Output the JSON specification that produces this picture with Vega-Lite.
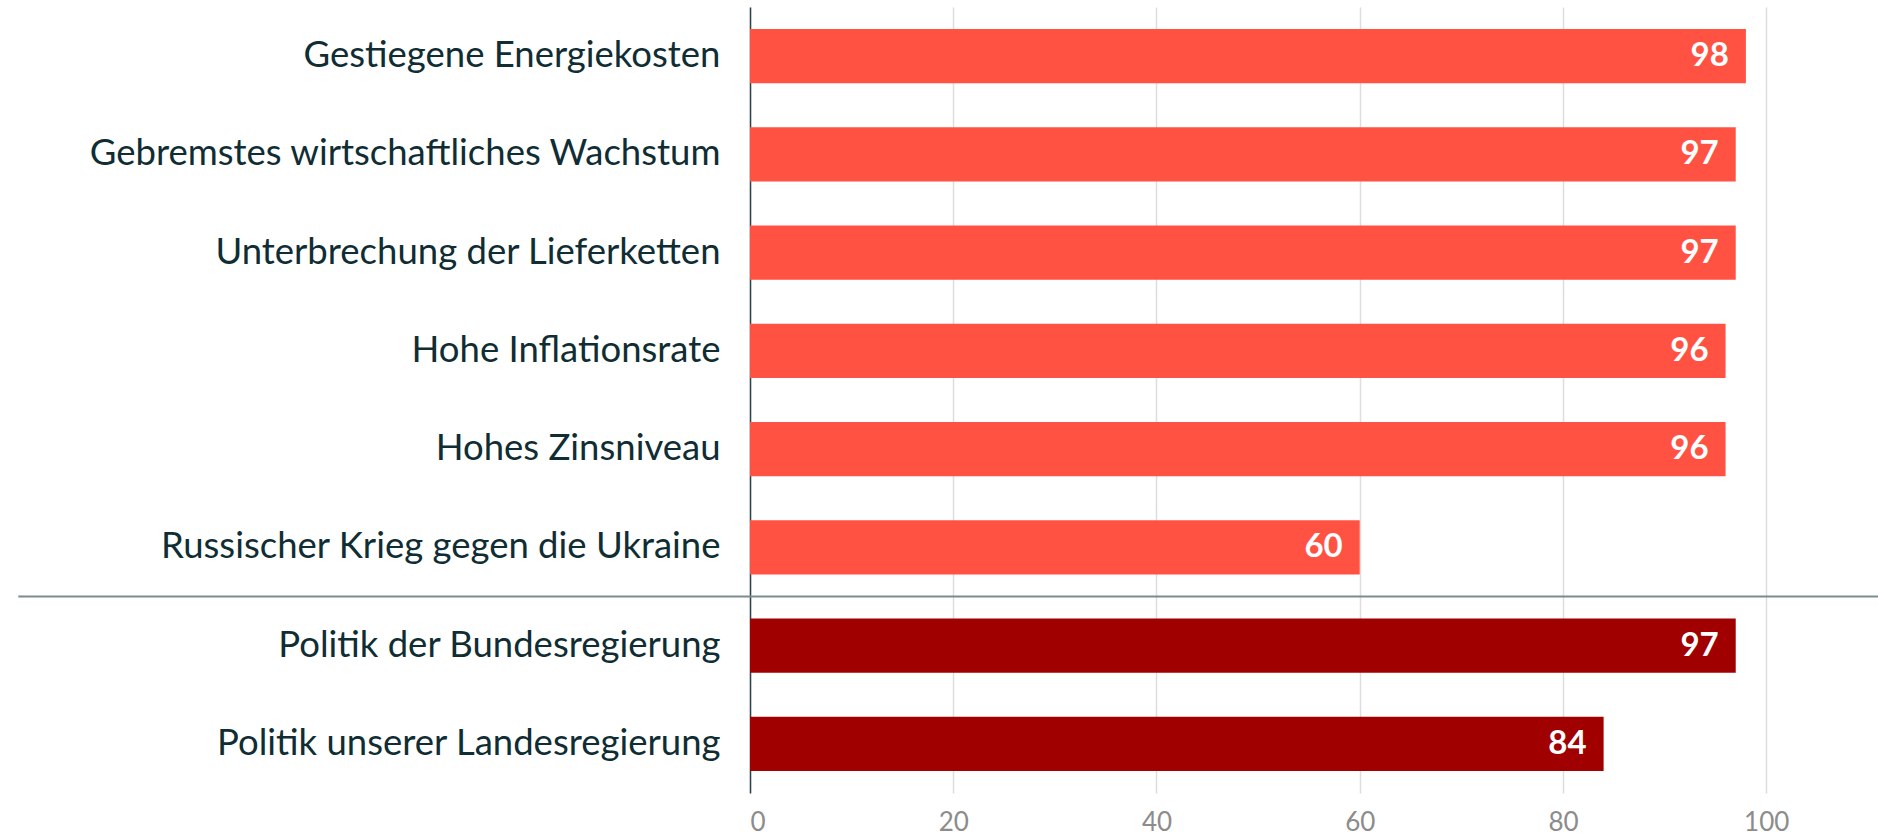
{
  "$schema": "https://vega.github.io/schema/vega-lite/v6.json",
  "width": 1128,
  "height": 786,
  "autosize": "none",
  "padding": {"left": 750, "top": 7, "right": 0, "bottom": 40},
  "background": "white",
  "datasets": {
    "bars": [
      {"item": "Gestiegene Energiekosten", "value": 98, "group": "Wirtschaft"},
      {"item": "Gebremstes wirtschaftliches Wachstum", "value": 97, "group": "Wirtschaft"},
      {"item": "Unterbrechung der Lieferketten", "value": 97, "group": "Wirtschaft"},
      {"item": "Hohe Inflationsrate", "value": 96, "group": "Wirtschaft"},
      {"item": "Hohes Zinsniveau", "value": 96, "group": "Wirtschaft"},
      {"item": "Russischer Krieg gegen die Ukraine", "value": 60, "group": "Wirtschaft"},
      {"item": "Politik der Bundesregierung", "value": 97, "group": "Politik"},
      {"item": "Politik unserer Landesregierung", "value": 84, "group": "Politik"}
    ],
    "separator": [
      {"item": "Russischer Krieg gegen die Ukraine"}
    ]
  },
  "config": {
    "view": {"stroke": null},
    "font": "Lato"
  },
  "layer": [
    {
      "data": {"name": "bars"},
      "mark": {"type": "bar"},
      "encoding": {
        "y": {
          "field": "item", "type": "nominal", "sort": null,
          "scale": {"paddingInner": 0.45, "paddingOuter": 0.225},
          "axis": {
            "title": null, "ticks": false, "grid": false,
            "domain": true, "domainColor": "#2e4349", "domainWidth": 1.5,
            "labelFont": "Lato", "labelFontSize": 36.5, "labelColor": "#102d34",
            "labelPadding": 30, "labelLimit": 800
          }
        },
        "x": {
          "field": "value", "type": "quantitative",
          "scale": {"domain": [0, 111], "nice": false},
          "axis": {
            "title": null, "values": [0, 20, 40, 60, 80, 100],
            "domain": false, "ticks": false,
            "grid": true, "gridColor": "#dddddd", "gridWidth": 1.5,
            "labelFont": "Lato", "labelFontSize": 26, "labelColor": "#8c8c8c",
            "labelPadding": 16
          }
        },
        "color": {
          "field": "group", "type": "nominal",
          "scale": {"domain": ["Wirtschaft", "Politik"], "range": ["#ff5243", "#a10000"]},
          "legend": null
        }
      }
    },
    {
      "data": {"name": "bars"},
      "mark": {"type": "text", "align": "right", "baseline": "middle", "dx": -17, "color": "white", "fontWeight": "bold", "fontSize": 33, "font": "Lato"},
      "encoding": {
        "y": {"field": "item", "type": "nominal", "sort": null},
        "x": {"field": "value", "type": "quantitative"},
        "text": {"field": "value", "type": "quantitative"}
      }
    },
    {
      "data": {"name": "separator"},
      "mark": {"type": "rule", "color": "#7b8b8e", "strokeWidth": 2},
      "encoding": {
        "y": {"field": "item", "type": "nominal", "sort": null, "bandPosition": 1.41},
        "x": {"datum": -72},
        "x2": {"datum": 111}
      }
    }
  ]
}
